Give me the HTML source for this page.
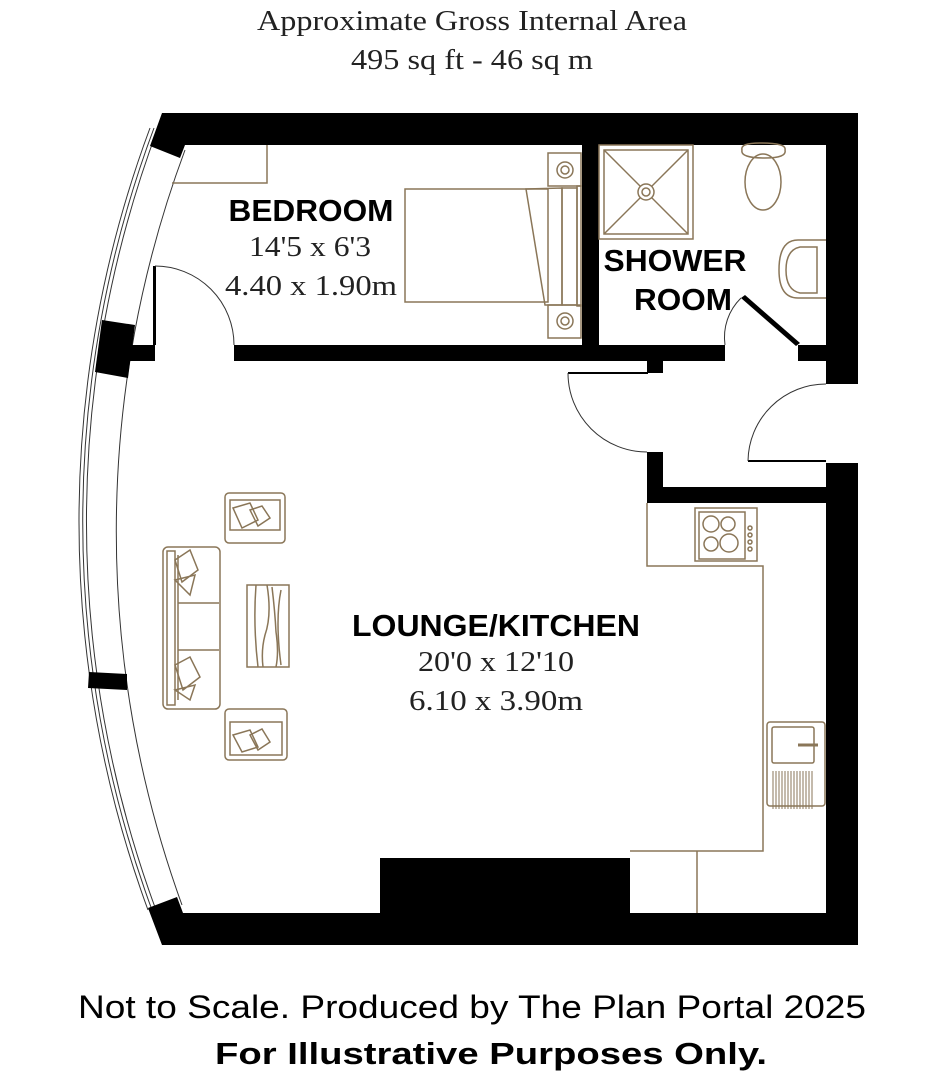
<!DOCTYPE html>
<html><head><meta charset="utf-8"><style>
html,body{margin:0;padding:0;background:#fff;}
svg{display:block;}
</style></head><body>
<svg width="945" height="1080" viewBox="0 0 945 1080" xmlns="http://www.w3.org/2000/svg">
<g font-family="Liberation Serif, serif" fill="#222">
<text x="472" y="30" font-size="28" text-anchor="middle" textLength="430" lengthAdjust="spacingAndGlyphs">Approximate Gross Internal Area</text>
<text x="472" y="69" font-size="28" text-anchor="middle" textLength="242" lengthAdjust="spacingAndGlyphs">495 sq ft - 46 sq m</text>
</g>
<!-- curved window arcs -->
<g fill="none" stroke="#333" stroke-width="1">
<path d="M150,128 A1127,1127 0 0 0 148,910"/>
<path d="M154,128 A1123,1123 0 0 0 152,910"/>
<path d="M158,128 A1119,1119 0 0 0 156,910"/>
<path d="M185,150 A1094,1094 0 0 0 182,905"/>
</g>
<g fill="#000">
<!-- top wall -->
<polygon points="162,113 858,113 858,384 826,384 826,145 185,145 180,158 150,146"/>
<!-- right wall lower -->
<rect x="826" y="463" width="32" height="482"/>
<!-- bottom wall -->
<polygon points="148,908 177,897 183,913 858,913 858,945 162,945"/>
<rect x="380" y="858" width="250" height="56"/>
<!-- piers -->
<polygon points="102,320 135,325 128,378 95,372"/>
<polygon points="89,672 127,674 127,690 88,688"/>
<!-- bedroom/shower partition -->
<rect x="582" y="145" width="17" height="216"/>
<!-- bedroom bottom wall -->
<rect x="128" y="345" width="27" height="16"/>
<rect x="234" y="345" width="491" height="16"/>
<rect x="798" y="345" width="28" height="16"/>
<rect x="647" y="361" width="16" height="12"/>
<!-- lower partition -->
<rect x="647" y="452" width="16" height="51"/>
<rect x="647" y="487" width="179" height="16"/>
<!-- door leafs -->
<rect x="153" y="266" width="3" height="79"/>
<rect x="568" y="372" width="80" height="2"/>
<rect x="748" y="460" width="78" height="2"/>
</g>
<polygon points="741,298 745,295 800,343 796,346" fill="#000"/>
<g fill="none" stroke="#333" stroke-width="1">
<path d="M155,266 A79,79 0 0 1 234,345"/>
<path d="M568,373 A79,79 0 0 0 647,452"/>
<path d="M748,461 A78,78 0 0 1 826,384"/>
<path d="M725,345 A55,55 0 0 1 741,298"/>
</g>
<!-- furniture -->
<g fill="none" stroke="#8a7658" stroke-width="1.5">
<polyline points="172,183 267,183 267,145"/>
<!-- bed -->
<rect x="405" y="189" width="143" height="113"/>
<polygon points="526,189 562,188 562,305 545,305"/>
<rect x="562" y="188" width="15" height="117"/>
<rect x="577" y="186" width="4" height="120"/>
<rect x="548" y="153" width="33" height="33"/>
<rect x="548" y="305" width="33" height="33"/>
<circle cx="565" cy="170" r="8"/><circle cx="565" cy="170" r="4"/>
<circle cx="565" cy="321" r="8"/><circle cx="565" cy="321" r="4"/>
<!-- shower -->
<rect x="599" y="145" width="94" height="94"/>
<rect x="604" y="150" width="84" height="84"/>
<line x1="604" y1="150" x2="688" y2="234"/><line x1="688" y1="150" x2="604" y2="234"/>
<circle cx="646" cy="192" r="8" fill="#fff"/><circle cx="646" cy="192" r="4"/>
<!-- toilet -->
<path d="M742,150 Q740,143 760,143 Q787,143 785,150 Q787,158 765,158 Q740,158 742,150 Z"/>
<ellipse cx="763" cy="182" rx="18" ry="28"/>
<!-- basin -->
<path d="M826,240 L798,240 Q779,240 779,270 Q779,298 798,298 L826,298"/>
<path d="M817,247 L800,247 Q786,250 786,270 Q786,290 800,293 L817,293 Z"/>
<!-- kitchen -->
<polyline points="647,503 647,566 763,566 763,851 630,851"/>
<line x1="697" y1="851" x2="697" y2="913"/>
<rect x="695" y="508" width="62" height="53"/>
<rect x="699" y="512" width="46" height="47"/>
<circle cx="711" cy="524" r="8"/><circle cx="728" cy="524" r="7"/>
<circle cx="711" cy="544" r="7"/><circle cx="729" cy="543" r="9"/>
<circle cx="750" cy="528" r="2"/><circle cx="750" cy="535" r="2"/><circle cx="750" cy="542" r="2"/><circle cx="750" cy="549" r="2"/>
<rect x="767" y="722" width="58" height="84" rx="3"/>
<rect x="772" y="727" width="42" height="36" rx="2"/>
<line x1="798" y1="745" x2="818" y2="745" stroke-width="3"/>
<path d="M773,771 v38 M776,771 v38 M779,771 v38 M782,771 v38 M785,771 v38 M788,771 v38 M791,771 v38 M794,771 v38 M797,771 v38 M800,771 v38 M803,771 v38 M806,771 v38 M809,771 v38 M812,771 v38" stroke-width="1"/>
<!-- sofa -->
<rect x="163" y="547" width="57" height="162" rx="5"/>
<rect x="167" y="551" width="8" height="154"/>
<line x1="178" y1="603" x2="219" y2="603"/><line x1="178" y1="650" x2="219" y2="650"/>
<line x1="178" y1="555" x2="178" y2="700"/>
<path d="M175,560 L190,550 L198,570 L182,582 Z M175,580 L195,575 L190,595 Z"/>
<path d="M175,665 L190,657 L200,677 L183,690 Z M175,690 L195,685 L190,700 Z"/>
<!-- armchairs -->
<rect x="225" y="493" width="60" height="50" rx="4"/>
<rect x="230" y="500" width="50" height="30"/>
<path d="M233,508 L250,503 L258,520 L242,528 Z M250,510 L262,506 L270,518 L258,526 Z"/>
<rect x="225" y="709" width="62" height="51" rx="4"/>
<rect x="230" y="722" width="52" height="33"/>
<path d="M233,735 L250,730 L258,747 L242,752 Z M250,735 L262,729 L270,742 L258,750 Z"/>
<!-- coffee table -->
<rect x="247" y="585" width="42" height="82"/>
<path d="M256,585 q-3,40 2,82 M267,585 q5,30 -2,50 q-4,15 -2,32 M272,587 q3,25 4,45 q3,20 0,35 M281,590 q-6,30 0,75"/>
</g>
<!-- room labels -->
<g font-family="Liberation Sans, sans-serif" font-weight="bold" fill="#000" font-size="31">
<text x="311" y="221" text-anchor="middle" textLength="165" lengthAdjust="spacingAndGlyphs">BEDROOM</text>
<text x="675" y="271" text-anchor="middle" textLength="143" lengthAdjust="spacingAndGlyphs">SHOWER</text>
<text x="683" y="310" text-anchor="middle" textLength="98" lengthAdjust="spacingAndGlyphs">ROOM</text>
<text x="496" y="636" text-anchor="middle" textLength="288" lengthAdjust="spacingAndGlyphs">LOUNGE/KITCHEN</text>
</g>
<g font-family="Liberation Serif, serif" fill="#222" font-size="28">
<text x="310" y="256" text-anchor="middle" textLength="122" lengthAdjust="spacingAndGlyphs">14'5 x 6'3</text>
<text x="311" y="295" text-anchor="middle" textLength="172" lengthAdjust="spacingAndGlyphs">4.40 x 1.90m</text>
<text x="496" y="671" text-anchor="middle" textLength="156" lengthAdjust="spacingAndGlyphs">20'0 x 12'10</text>
<text x="496" y="710" text-anchor="middle" textLength="174" lengthAdjust="spacingAndGlyphs">6.10 x 3.90m</text>
</g>
<g font-family="Liberation Sans, sans-serif" fill="#000">
<text x="472" y="1018" font-size="32" text-anchor="middle" textLength="788" lengthAdjust="spacingAndGlyphs">Not to Scale. Produced by The Plan Portal 2025</text>
<text x="491" y="1064" font-size="31" font-weight="bold" text-anchor="middle" textLength="552" lengthAdjust="spacingAndGlyphs">For Illustrative Purposes Only.</text>
</g>
</svg>
</body></html>
